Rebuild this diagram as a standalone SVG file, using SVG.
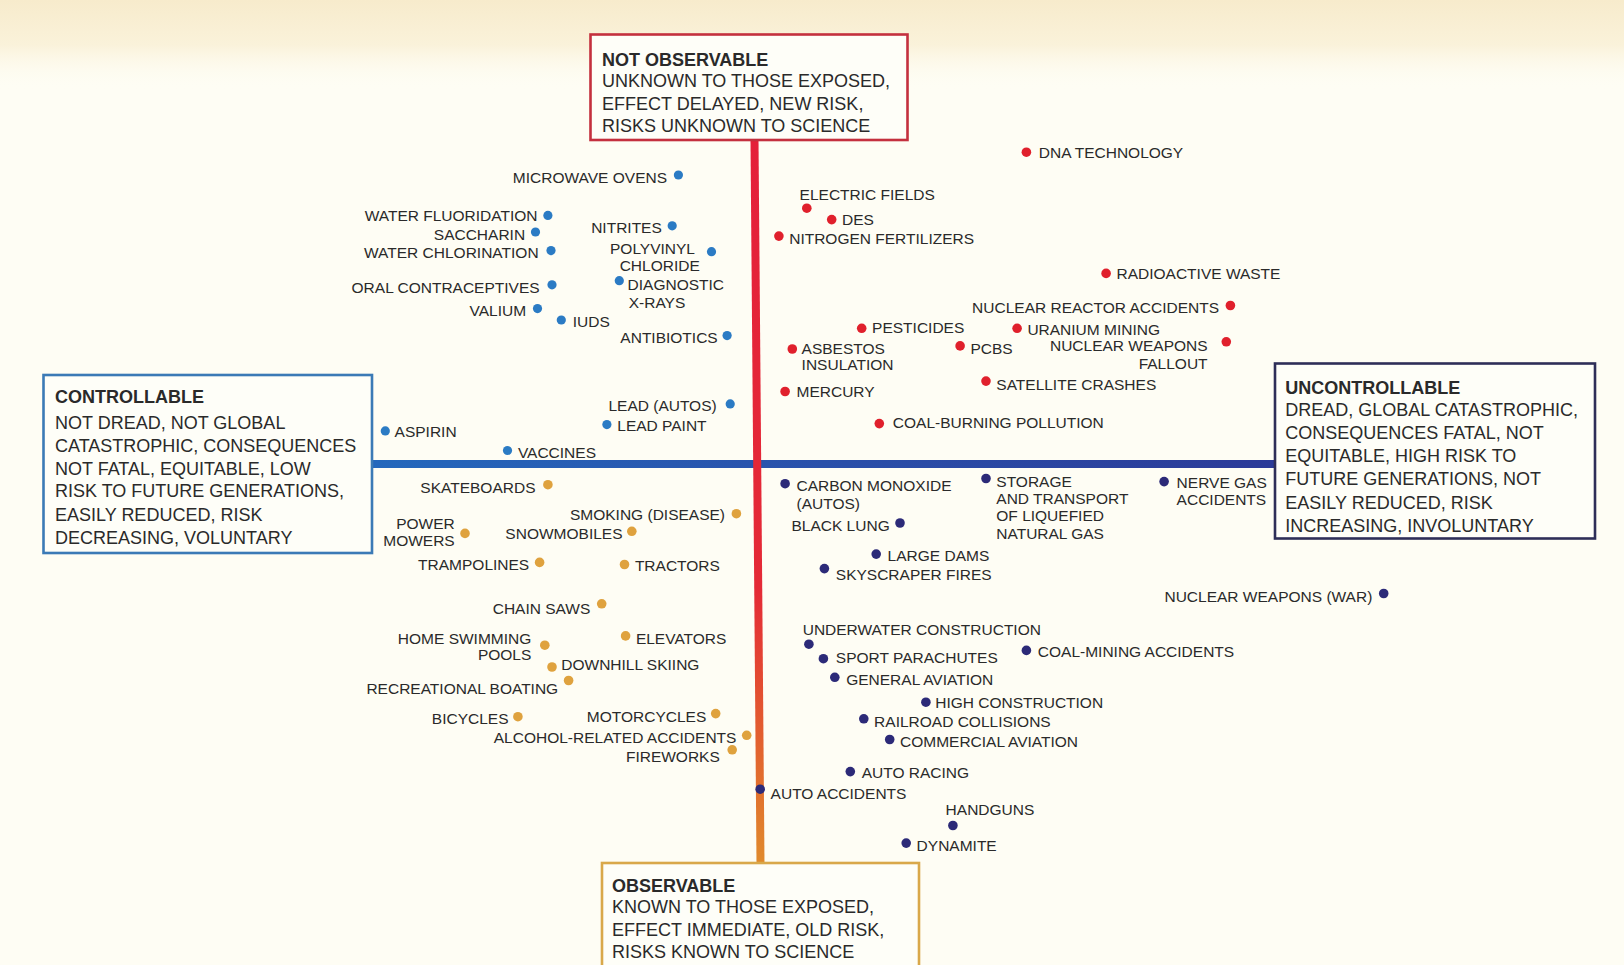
<svg xmlns="http://www.w3.org/2000/svg" width="1624" height="965" viewBox="0 0 1624 965">
<defs>
<linearGradient id="vgrad" x1="0" y1="0" x2="0" y2="1">
<stop offset="0" stop-color="#e4203a"/>
<stop offset="0.62" stop-color="#e42a36"/>
<stop offset="0.85" stop-color="#e2652e"/>
<stop offset="1" stop-color="#e08a2c"/>
</linearGradient>
<linearGradient id="hgrad" x1="0" y1="0" x2="1" y2="0">
<stop offset="0" stop-color="#2468bc"/>
<stop offset="0.5" stop-color="#2a50aa"/>
<stop offset="1" stop-color="#2b3a98"/>
</linearGradient>
<linearGradient id="topband" x1="0" y1="0" x2="0" y2="1">
<stop offset="0" stop-color="#f7ebcc"/>
<stop offset="0.5" stop-color="#faf2da"/>
<stop offset="1" stop-color="#fefdf4" stop-opacity="0"/>
</linearGradient>
<style>
text{font-family:"Liberation Sans",Arial,sans-serif;fill:#2a2a2a}
.l{font-size:15.5px}
.e{text-anchor:end}
.m{text-anchor:middle}
.b{font-size:18px}
.h{font-size:18px;font-weight:bold}
.db{fill:#2b7bc4}
.dr{fill:#e0202c}
.do{fill:#dfa23e}
.dn{fill:#2c2a78}
.box{fill:#fefef8;stroke-width:2.6}
</style>
</defs>
<rect x="0" y="0" width="1624" height="965" fill="#fefdf4"/>
<rect x="0" y="0" width="1624" height="90" fill="url(#topband)"/>

<g id="axes">
<rect x="372" y="460" width="903" height="8" fill="url(#hgrad)"/>
<polygon points="750.5,140 758.5,140 764.5,863 756.5,863" fill="url(#vgrad)"/>
</g>

<g id="not-observable">
<rect class="box" x="590.5" y="34.5" width="317" height="105.5" stroke="#c4303e"/>
<text class="h" x="602" y="65.5">NOT OBSERVABLE</text>
<text class="b" x="602" y="87">UNKNOWN TO THOSE EXPOSED,</text>
<text class="b" x="602" y="109.5">EFFECT DELAYED, NEW RISK,</text>
<text class="b" x="602" y="132">RISKS UNKNOWN TO SCIENCE</text>
</g>

<g id="controllable">
<rect class="box" x="43.5" y="375" width="328.5" height="178" stroke="#3b7ab6"/>
<text class="h" x="55" y="403.2">CONTROLLABLE</text>
<text class="b" x="55" y="429.1">NOT DREAD, NOT GLOBAL</text>
<text class="b" x="55" y="451.5">CATASTROPHIC, CONSEQUENCES</text>
<text class="b" x="55" y="474.6">NOT FATAL, EQUITABLE, LOW</text>
<text class="b" x="55" y="497.4">RISK TO FUTURE GENERATIONS,</text>
<text class="b" x="55" y="521">EASILY REDUCED, RISK</text>
<text class="b" x="55" y="544">DECREASING, VOLUNTARY</text>
</g>

<g id="uncontrollable">
<rect class="box" x="1275" y="363.5" width="320" height="175" stroke="#2e2e58"/>
<text class="h" x="1285.3" y="393.9">UNCONTROLLABLE</text>
<text class="b" x="1285.3" y="415.8">DREAD, GLOBAL CATASTROPHIC,</text>
<text class="b" x="1285.3" y="439.2">CONSEQUENCES FATAL, NOT</text>
<text class="b" x="1285.3" y="462.2">EQUITABLE, HIGH RISK TO</text>
<text class="b" x="1285.3" y="485">FUTURE GENERATIONS, NOT</text>
<text class="b" x="1285.3" y="508.6">EASILY REDUCED, RISK</text>
<text class="b" x="1285.3" y="531.6">INCREASING, INVOLUNTARY</text>
</g>

<g id="observable">
<rect class="box" x="602" y="863" width="317" height="115" stroke="#d9a84a"/>
<text class="h" x="612" y="892">OBSERVABLE</text>
<text class="b" x="612" y="913">KNOWN TO THOSE EXPOSED,</text>
<text class="b" x="612" y="935.5">EFFECT IMMEDIATE, OLD RISK,</text>
<text class="b" x="612" y="958.3">RISKS KNOWN TO SCIENCE</text>
</g>

<!-- blue: not observable, controllable -->
<g id="microwave-ovens"><circle class="db" cx="678.4" cy="175" r="4.6"/><text class="l e" x="667" y="182.6">MICROWAVE OVENS</text></g>
<g id="water-fluoridation"><circle class="db" cx="547.9" cy="215.4" r="4.6"/><text class="l e" x="537.5" y="220.9">WATER FLUORIDATION</text></g>
<g id="saccharin"><circle class="db" cx="535.5" cy="232" r="4.6"/><text class="l e" x="525.1" y="239.6">SACCHARIN</text></g>
<g id="water-chlorination"><circle class="db" cx="551" cy="250.6" r="4.6"/><text class="l e" x="538.6" y="258.2">WATER CHLORINATION</text></g>
<g id="oral-contraceptives"><circle class="db" cx="552" cy="284.8" r="4.6"/><text class="l e" x="539.6" y="293.4">ORAL CONTRACEPTIVES</text></g>
<g id="valium"><circle class="db" cx="537.5" cy="308.6" r="4.6"/><text class="l e" x="526.1" y="316.2">VALIUM</text></g>
<g id="iuds"><circle class="db" cx="561.3" cy="320" r="4.6"/><text class="l" x="572.7" y="326.6">IUDS</text></g>
<g id="nitrites"><circle class="db" cx="672.2" cy="225.8" r="4.6"/><text class="l e" x="661.8" y="233.4">NITRITES</text></g>
<g id="polyvinyl-chloride"><circle class="db" cx="711.5" cy="251.7" r="4.6"/><text class="l m" x="652.5" y="254.1">POLYVINYL</text><text class="l m" x="659.7" y="270.6">CHLORIDE</text></g>
<g id="diagnostic-xrays"><circle class="db" cx="619.3" cy="280.7" r="4.6"/><text class="l" x="627.6" y="290.3">DIAGNOSTIC</text><text class="l" x="628.7" y="307.9">X-RAYS</text></g>
<g id="antibiotics"><circle class="db" cx="727.1" cy="335.6" r="4.6"/><text class="l e" x="717.7" y="343.1">ANTIBIOTICS</text></g>
<g id="lead-autos"><circle class="db" cx="730.2" cy="403.9" r="4.6"/><text class="l e" x="716.7" y="410.5">LEAD (AUTOS)</text></g>
<g id="lead-paint"><circle class="db" cx="606.9" cy="424.6" r="4.6"/><text class="l" x="617.3" y="431.2">LEAD PAINT</text></g>
<g id="aspirin"><circle class="db" cx="385.3" cy="430.9" r="4.6"/><text class="l" x="394.6" y="437.4">ASPIRIN</text></g>
<g id="vaccines"><circle class="db" cx="507.5" cy="450.5" r="4.6"/><text class="l" x="517.9" y="458.1">VACCINES</text></g>

<!-- red: not observable, uncontrollable -->
<g id="dna-technology"><circle class="dr" cx="1026.4" cy="152.2" r="4.8"/><text class="l" x="1038.8" y="157.7">DNA TECHNOLOGY</text></g>
<g id="electric-fields"><circle class="dr" cx="806.8" cy="208.2" r="4.8"/><text class="l" x="799.6" y="200.2">ELECTRIC FIELDS</text></g>
<g id="des"><circle class="dr" cx="831.7" cy="219.6" r="4.8"/><text class="l" x="842" y="225.1">DES</text></g>
<g id="nitrogen-fertilizers"><circle class="dr" cx="778.9" cy="236.1" r="4.8"/><text class="l" x="789.2" y="243.7">NITROGEN FERTILIZERS</text></g>
<g id="radioactive-waste"><circle class="dr" cx="1106.1" cy="273.4" r="4.8"/><text class="l" x="1116.5" y="278.9">RADIOACTIVE WASTE</text></g>
<g id="nuclear-reactor-accidents"><circle class="dr" cx="1230.4" cy="305.5" r="4.8"/><text class="l e" x="1219" y="313.1">NUCLEAR REACTOR ACCIDENTS</text></g>
<g id="pesticides"><circle class="dr" cx="861.7" cy="328.3" r="4.8"/><text class="l" x="872.1" y="332.8">PESTICIDES</text></g>
<g id="uranium-mining"><circle class="dr" cx="1017.1" cy="328.3" r="4.8"/><text class="l" x="1027.4" y="334.9">URANIUM MINING</text></g>
<g id="asbestos-insulation"><circle class="dr" cx="792.3" cy="349" r="4.8"/><text class="l" x="801.6" y="353.5">ASBESTOS</text><text class="l" x="801.6" y="370.1">INSULATION</text></g>
<g id="pcbs"><circle class="dr" cx="960.1" cy="345.9" r="4.8"/><text class="l" x="970.5" y="353.5">PCBS</text></g>
<g id="nuclear-weapons-fallout"><circle class="dr" cx="1226.3" cy="341.8" r="4.8"/><text class="l e" x="1207.6" y="351.4">NUCLEAR WEAPONS</text><text class="l e" x="1207.6" y="369">FALLOUT</text></g>
<g id="mercury"><circle class="dr" cx="785.1" cy="391.5" r="4.8"/><text class="l" x="796.5" y="397">MERCURY</text></g>
<g id="satellite-crashes"><circle class="dr" cx="986" cy="381.1" r="4.8"/><text class="l" x="996.3" y="389.7">SATELLITE CRASHES</text></g>
<g id="coal-burning-pollution"><circle class="dr" cx="879.3" cy="423.6" r="4.8"/><text class="l" x="892.8" y="428.1">COAL-BURNING POLLUTION</text></g>

<!-- orange: observable, controllable -->
<g id="skateboards"><circle class="do" cx="547.9" cy="484.7" r="4.8"/><text class="l e" x="535.5" y="493.3">SKATEBOARDS</text></g>
<g id="power-mowers"><circle class="do" cx="465" cy="533.4" r="4.8"/><text class="l e" x="454.7" y="528.5">POWER</text><text class="l e" x="454.7" y="546.1">MOWERS</text></g>
<g id="smoking-disease"><circle class="do" cx="736.4" cy="513.7" r="4.8"/><text class="l e" x="725" y="520.2">SMOKING (DISEASE)</text></g>
<g id="snowmobiles"><circle class="do" cx="631.8" cy="531.3" r="4.8"/><text class="l e" x="622.5" y="538.9">SNOWMOBILES</text></g>
<g id="trampolines"><circle class="do" cx="539.6" cy="562.4" r="4.8"/><text class="l e" x="529.2" y="570">TRAMPOLINES</text></g>
<g id="tractors"><circle class="do" cx="624.5" cy="564.5" r="4.8"/><text class="l" x="634.9" y="571">TRACTORS</text></g>
<g id="chain-saws"><circle class="do" cx="601.7" cy="603.8" r="4.8"/><text class="l e" x="590.3" y="613.5">CHAIN SAWS</text></g>
<g id="home-swimming-pools"><circle class="do" cx="544.8" cy="645.2" r="4.8"/><text class="l e" x="531.3" y="643.5">HOME SWIMMING</text><text class="l e" x="531.3" y="660.1">POOLS</text></g>
<g id="elevators"><circle class="do" cx="625.6" cy="635.9" r="4.8"/><text class="l" x="635.9" y="643.5">ELEVATORS</text></g>
<g id="downhill-skiing"><circle class="do" cx="552" cy="667" r="4.8"/><text class="l" x="561.3" y="670.4">DOWNHILL SKIING</text></g>
<g id="recreational-boating"><circle class="do" cx="568.6" cy="680.5" r="4.8"/><text class="l e" x="558.2" y="694.2">RECREATIONAL BOATING</text></g>
<g id="bicycles"><circle class="do" cx="517.9" cy="716.7" r="4.8"/><text class="l e" x="508.5" y="724.3">BICYCLES</text></g>
<g id="motorcycles"><circle class="do" cx="715.7" cy="713.6" r="4.8"/><text class="l e" x="706.3" y="722.2">MOTORCYCLES</text></g>
<g id="alcohol-related-accidents"><circle class="do" cx="746.7" cy="735.3" r="4.8"/><text class="l e" x="736.4" y="742.9">ALCOHOL-RELATED ACCIDENTS</text></g>
<g id="fireworks"><circle class="do" cx="732.2" cy="749.8" r="4.8"/><text class="l e" x="719.8" y="761.6">FIREWORKS</text></g>

<!-- navy: observable, uncontrollable -->
<g id="carbon-monoxide-autos"><circle class="dn" cx="785.1" cy="483.7" r="4.8"/><text class="l" x="796.5" y="491.2">CARBON MONOXIDE</text><text class="l" x="796.5" y="508.9">(AUTOS)</text></g>
<g id="black-lung"><circle class="dn" cx="900" cy="523" r="4.8"/><text class="l e" x="889.7" y="530.6">BLACK LUNG</text></g>
<g id="storage-transport-lng"><circle class="dn" cx="986" cy="478.5" r="4.8"/><text class="l" x="996.3" y="487.1">STORAGE</text><text class="l" x="996.3" y="503.7">AND TRANSPORT</text><text class="l" x="996.3" y="521.3">OF LIQUEFIED</text><text class="l" x="996.3" y="538.9">NATURAL GAS</text></g>
<g id="nerve-gas-accidents"><circle class="dn" cx="1164.1" cy="481.6" r="4.8"/><text class="l" x="1176.6" y="488.1">NERVE GAS</text><text class="l" x="1176.6" y="504.7">ACCIDENTS</text></g>
<g id="large-dams"><circle class="dn" cx="876.2" cy="554.1" r="4.8"/><text class="l" x="887.6" y="560.6">LARGE DAMS</text></g>
<g id="skyscraper-fires"><circle class="dn" cx="824.4" cy="568.6" r="4.8"/><text class="l" x="835.8" y="580.3">SKYSCRAPER FIRES</text></g>
<g id="nuclear-weapons-war"><circle class="dn" cx="1383.7" cy="593.5" r="4.8"/><text class="l e" x="1372.3" y="602.1">NUCLEAR WEAPONS (WAR)</text></g>
<g id="underwater-construction"><circle class="dn" cx="808.9" cy="644.2" r="4.8"/><text class="l" x="802.7" y="635.2">UNDERWATER CONSTRUCTION</text></g>
<g id="sport-parachutes"><circle class="dn" cx="823.4" cy="658.7" r="4.8"/><text class="l" x="835.8" y="663.2">SPORT PARACHUTES</text></g>
<g id="coal-mining-accidents"><circle class="dn" cx="1026.4" cy="650.4" r="4.8"/><text class="l" x="1037.8" y="657">COAL-MINING ACCIDENTS</text></g>
<g id="general-aviation"><circle class="dn" cx="834.8" cy="677.3" r="4.8"/><text class="l" x="846.2" y="684.9">GENERAL AVIATION</text></g>
<g id="high-construction"><circle class="dn" cx="925.9" cy="702.2" r="4.8"/><text class="l" x="935.2" y="707.7">HIGH CONSTRUCTION</text></g>
<g id="railroad-collisions"><circle class="dn" cx="863.8" cy="718.8" r="4.8"/><text class="l" x="874.1" y="727.4">RAILROAD COLLISIONS</text></g>
<g id="commercial-aviation"><circle class="dn" cx="889.7" cy="739.5" r="4.8"/><text class="l" x="900" y="747.1">COMMERCIAL AVIATION</text></g>
<g id="auto-racing"><circle class="dn" cx="850.3" cy="771.6" r="4.8"/><text class="l" x="861.7" y="778.1">AUTO RACING</text></g>
<g id="auto-accidents"><circle class="dn" cx="760.2" cy="789.2" r="4.8"/><text class="l" x="770.6" y="798.8">AUTO ACCIDENTS</text></g>
<g id="handguns"><circle class="dn" cx="952.9" cy="825.5" r="4.8"/><text class="l" x="945.6" y="815.4">HANDGUNS</text></g>
<g id="dynamite"><circle class="dn" cx="906.2" cy="843.1" r="4.8"/><text class="l" x="916.6" y="850.6">DYNAMITE</text></g>
</svg>
